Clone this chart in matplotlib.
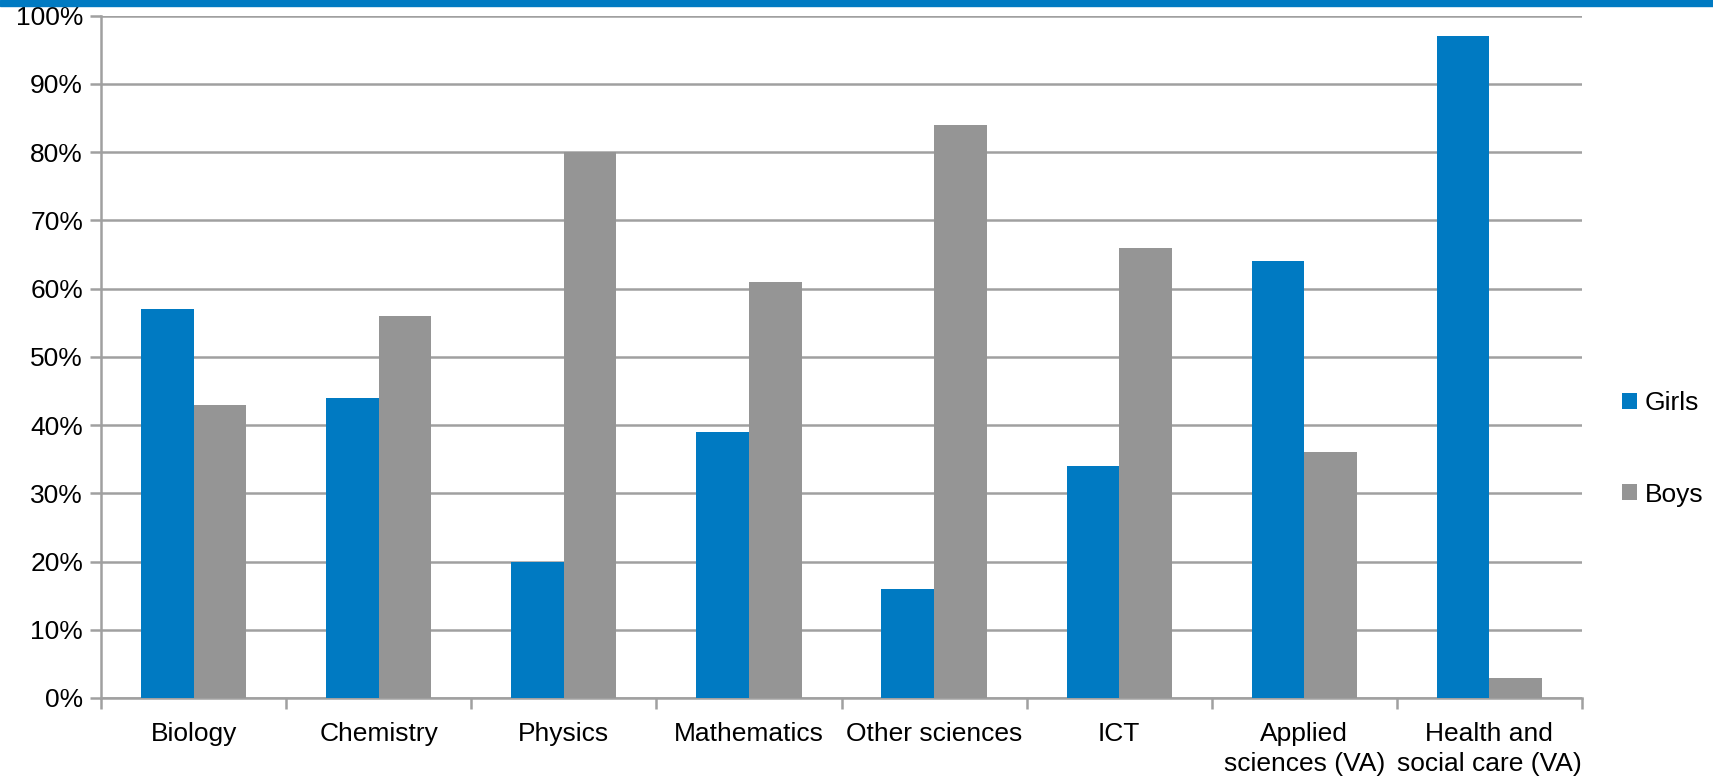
import matplotlib.pyplot as plt
import matplotlib.patches as mpatches
import numpy as np
from matplotlib.ticker import FuncFormatter, MultipleLocator

plt.rcParams['font.family'] = ['Liberation Sans', 'DejaVu Sans']

categories = ['Biology', 'Chemistry', 'Physics', 'Mathematics', 'Other sciences',
              'ICT', 'Applied\nsciences (VA)', 'Health and\nsocial care (VA)']
girls = [57, 44, 20, 39, 16, 34, 64, 97]
boys = [43, 56, 80, 61, 84, 66, 36, 3]

blue = '#007AC2'
grey = '#959595'
line_col = '#A0A0A0'
fs = 19

fig = plt.figure(figsize=(17.13, 7.79), dpi=100)
ax = fig.add_axes([0.059, 0.104, 0.8645, 0.876])

# blue strip along the top edge
fig.patches.append(mpatches.Rectangle((0, 0.992), 1, 0.008, transform=fig.transFigure,
                                      color=blue, zorder=0))

x = np.arange(len(categories))
w = 0.284
ax.bar(x - w / 2, girls, width=w, color=blue, label='Girls', zorder=3)
ax.bar(x + w / 2, boys, width=w, color=grey, label='Boys', zorder=3)

ax.set_xlim(-0.5, len(categories) - 0.5)
ax.set_ylim(0, 100)
ax.yaxis.set_major_locator(MultipleLocator(10))
ax.yaxis.set_major_formatter(FuncFormatter(lambda v, pos: '%d%%' % v))
ax.grid(which='major', axis='y', color=line_col, linewidth=1.8, zorder=0)

# ticks at category boundaries, labels at centres
ax.set_xticks(np.arange(len(categories) + 1) - 0.5)
ax.set_xticklabels([])
ax.set_xticks(x, minor=True)
ax.set_xticklabels(categories, minor=True, fontsize=fs, linespacing=1.35)
ax.tick_params(axis='x', which='minor', length=0, pad=17)
ax.tick_params(axis='x', which='major', length=8, width=1.8, color=line_col)
ax.tick_params(axis='y', length=8, width=1.8, color=line_col, labelsize=fs, pad=5)

for s in ['top', 'right']:
    ax.spines[s].set_visible(False)
for s in ['left', 'bottom']:
    ax.spines[s].set_color(line_col)
    ax.spines[s].set_linewidth(1.8)

ax.legend(loc='center left', bbox_to_anchor=(1.02, 0.365), frameon=False, fontsize=fs,
          handlelength=0.55, handleheight=0.55, handletextpad=0.3, labelspacing=2.55,
          borderaxespad=0)

plt.savefig('out.png', dpi=100)
